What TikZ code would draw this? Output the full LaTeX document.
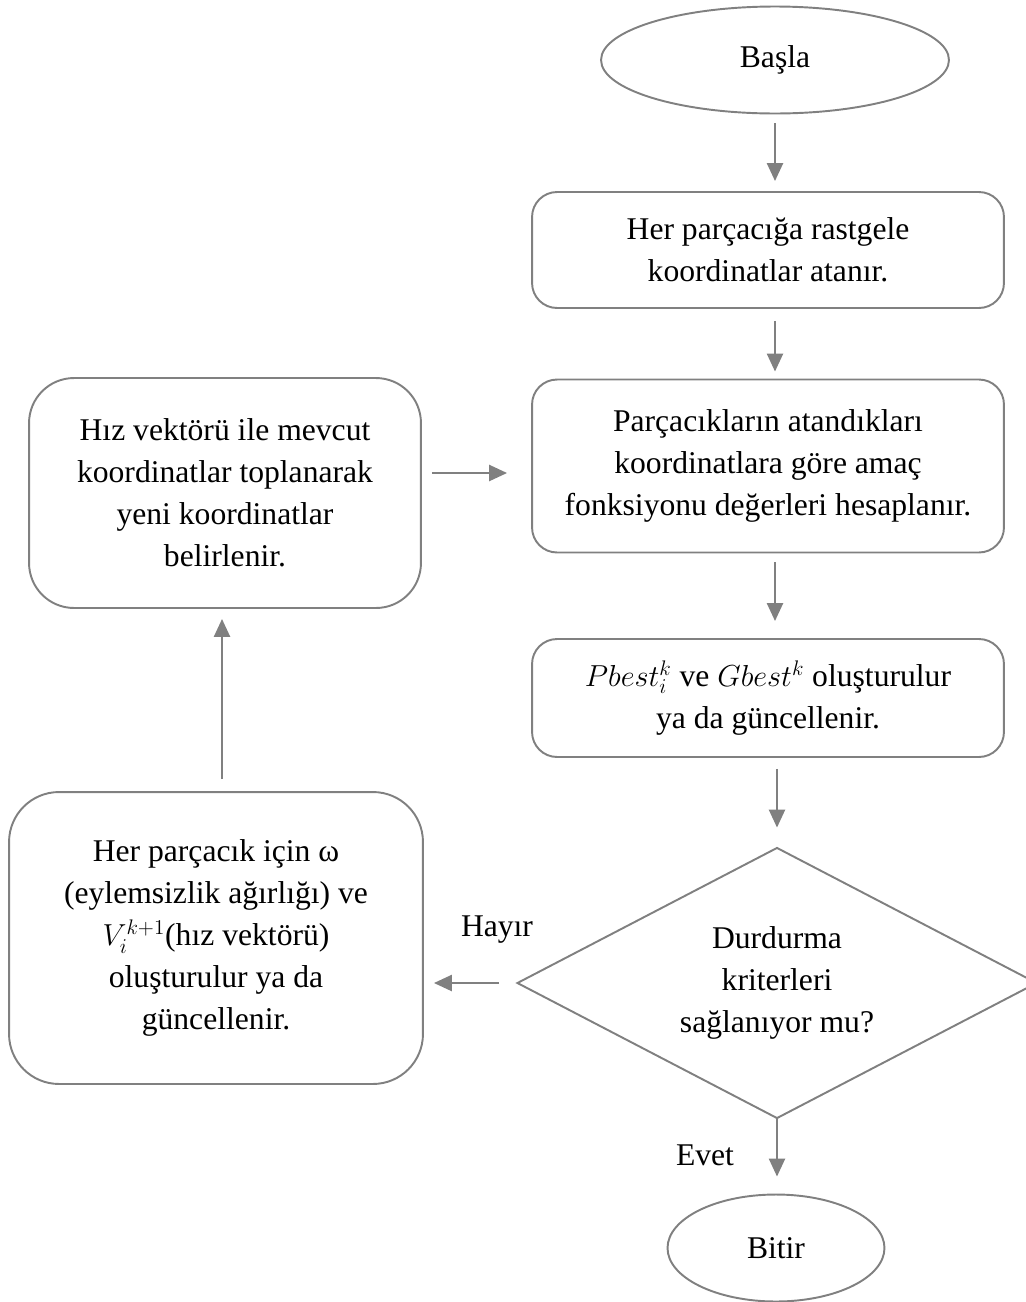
\documentclass[tikz,border=0pt]{standalone}
\usepackage{fontspec}
\setmainfont{Liberation Serif}
\usetikzlibrary{shapes.geometric,arrows.meta}
\definecolor{cizgi}{RGB}{128,128,128}
\tikzset{
  yazi/.style={font=\fontsize{18pt}{23.9pt}\selectfont, align=center, text=black},
  kutu/.style={yazi, draw=cizgi, line width=1.1pt, rectangle, rounded corners=0.5cm, inner sep=0pt},
  uc/.style={yazi, draw=cizgi, line width=1.1pt, ellipse, inner sep=0pt},
  karar/.style={yazi, draw=cizgi, line width=1.1pt, diamond, aspect=1.92, inner sep=0pt},
  ok/.style={draw=cizgi, line width=1.4pt, -{Triangle[length=0.36cm,width=0.32cm]}}
}
\begin{document}
\begin{tikzpicture}[x=0.02cm,y=-0.02cm]
    \useasboundingbox (0,0) rectangle (1025,1302);
    \node[uc, minimum width=6.96cm, minimum height=2.14cm] (basla) at (775,60) {Başla};
    \node[kutu, minimum width=9.44cm, minimum height=2.32cm] (kutu1) at (768,250) {Her parçacığa rastgele\\koordinatlar atanır.};
    \node[kutu, minimum width=9.44cm, minimum height=3.46cm] (kutu2) at (768,466) {Parçacıkların atandıkları\\koordinatlara göre amaç\\fonksiyonu değerleri hesaplanır.};
    \node[kutu, minimum width=9.44cm, minimum height=2.36cm] (kutu3) at (768,698) {$Pbest_i^k$\ ve $Gbest^k$ oluşturulur\\ya da güncellenir.};
    \node[karar, minimum width=10.4cm, minimum height=5.42cm] (durdur) at (777,983) {Durdurma\\kriterleri\\sağlanıyor mu?};
    \node[uc, minimum width=4.34cm, minimum height=2.14cm] (bitir) at (776,1248) {Bitir};
    \node[kutu, rounded corners=1cm, minimum width=8.28cm, minimum height=5.84cm] (hiz) at (216,938) {Her parçacık için ω\\(eylemsizlik ağırlığı) ve\\$V_i^{k+1}$(hız vektörü)\\oluşturulur ya da\\güncellenir.};
    \node[kutu, rounded corners=0.9cm, minimum width=7.84cm, minimum height=4.6cm] (konum) at (225,493) {Hız vektörü ile mevcut\\koordinatlar toplanarak\\yeni koordinatlar\\belirlenir.};
    \node[yazi] (hayir) at (497,930) {Hayır};
    \node[yazi] (evet) at (705,1155) {Evet};
    \draw[ok, shorten <=0.18cm, shorten >=0.2cm] (basla.south) -- (basla.south |- kutu1.north);
    \draw[ok, shorten <=0.24cm, shorten >=0.14cm] (kutu1.south -| basla.south) -- (kutu2.north -| basla.south);
    \draw[ok, shorten <=0.18cm, shorten >=0.34cm] (kutu2.south -| basla.south) -- (kutu3.north -| basla.south);
    \draw[ok, shorten <=0.22cm, shorten >=0.38cm] (kutu3.south -| durdur.north) -- (durdur.north);
    \draw[ok, shorten >=0.34cm] (durdur.south) -- (bitir.north -| durdur.south);
    \draw[ok, shorten <=0.34cm, shorten >=0.2cm] (durdur.west) -- (durdur.west -| hiz.east);
    \draw[ok, shorten <=0.24cm, shorten >=0.2cm] (hiz.north -| 222,0) -- (konum.south -| 222,0);
    \draw[ok, shorten <=0.2cm, shorten >=0.48cm] (konum.east |- 0,473) -- (kutu2.west |- 0,473);
\end{tikzpicture}
\end{document}
